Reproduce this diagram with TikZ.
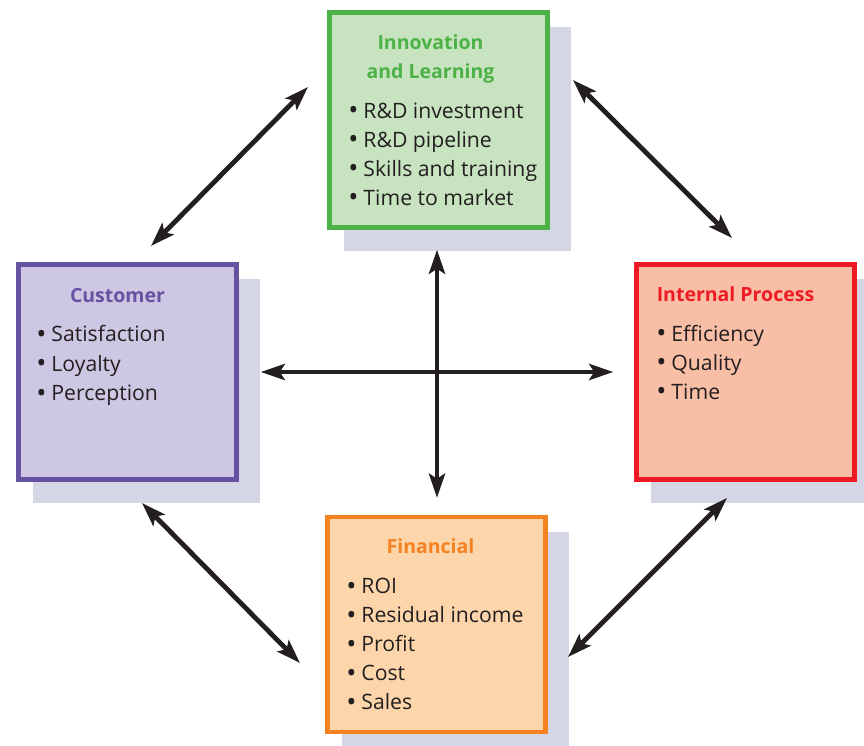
\documentclass[tikz,border=0pt]{standalone}
\usepackage{fontspec}
\setmainfont{Open Sans}
\usepackage{tikz}
\usetikzlibrary{arrows.meta, positioning, calc}
\usepackage{xcolor}
\definecolor{innovline}{RGB}{76,178,72}
\definecolor{innovfill}{RGB}{200,227,192}
\definecolor{custline}{RGB}{103,82,162}
\definecolor{custfill}{RGB}{205,199,227}
\definecolor{procline}{RGB}{237,28,36}
\definecolor{procfill}{RGB}{248,190,166}
\definecolor{finline}{RGB}{245,130,32}
\definecolor{finfill}{RGB}{252,213,170}
\definecolor{shadowgray}{RGB}{212,214,230}
\definecolor{ink}{RGB}{35,31,32}

\tikzset{
  panel/.style={draw=#1line, fill=#1fill, line width=4.5pt, inner sep=0pt,
    minimum width=218pt, minimum height=215pt},
  heading/.style={anchor=base, font=\fontsize{19.5}{29}\selectfont\bfseries,
    text=#1line, align=center, inner sep=0pt},
  item/.style={anchor=base west, font=\fontsize{21.2}{29}\selectfont, text=ink, inner sep=0pt},
  link/.style={draw=ink, line width=4.8pt, {Stealth[length=24pt,width=16pt,inset=5pt]}-{Stealth[length=24pt,width=16pt,inset=5pt]}}
}
\newcommand{\bul}{\makebox[15pt][l]{\raisebox{-1.6pt}{\fontsize{27}{27}\selectfont\textbullet}}}

\begin{document}
\begin{tikzpicture}[x=1pt, y=-1pt]
  \useasboundingbox (0,0) rectangle (864,746);
  % the four panels, placed first to get their corners
  \path node[panel=innov, draw=none, fill=none] (innov) at (438.5,120) {}
        node[panel=cust, draw=none, fill=none] (cust) at (127.5,372) {}
        node[panel=proc, draw=none, fill=none] (proc) at (745.5,372) {}
        node[panel=fin, draw=none, fill=none] (fin) at (436.5,624.5) {};
  % shadows behind
  \foreach \p in {innov,cust,proc,fin}
    \fill[shadowgray] ([shift={(16.75,16.75)}]\p.north west) rectangle ([shift={(21.25,21.25)}]\p.south east);
  \foreach \p in {innov,cust,proc,fin}
    \node[panel=\p] at (\p) {};
  % headings
  \node[heading=innov] (innov-h) at ([shift={(-8,68)}]innov.north) {Innovation\\and Learning};
  \node[heading=cust] (cust-h) at ([shift={(-10,40)}]cust.north) {Customer};
  \node[heading=proc] (proc-h) at ([shift={(-10,39)}]proc.north) {Internal Process};
  \node[heading=fin] (fin-h) at ([shift={(-6,39)}]fin.north) {Financial};
  % bullet lists
  \foreach \t [count=\i] in {R\&D investment, R\&D pipeline, Skills and training, Time to market}
    \node[item] (innov-\i) at ([shift={(21,79+29*\i)}]innov.north west) {\bul\t};
  \foreach \t [count=\i] in {Satisfaction, Loyalty, Perception}
    \node[item] (cust-\i) at ([shift={(20,50+29.5*\i)}]cust.north west) {\bul\t};
  \foreach \t [count=\i] in {Efficiency, Quality, Time}
    \node[item] (proc-\i) at ([shift={(22,50+29*\i)}]proc.north west) {\bul\t};
  \foreach \t [count=\i] in {ROI, Residual income, Profit, Cost, Sales}
    \node[item] (fin-\i) at ([shift={(21,50+29*\i)}]fin.north west) {\bul\t};
  % arrow ends
  \coordinate (ci-a) at (151,246);
  \coordinate (ci-b) at (308,87);
  \coordinate (ip-a) at (573,80);
  \coordinate (ip-b) at (732,238);
  \coordinate (cf-a) at (142,503);
  \coordinate (cf-b) at (300,663);
  \coordinate (pf-a) at (727,498);
  \coordinate (pf-b) at (568,657);
  \draw[link] (ci-a) -- (ci-b);
  \draw[link] (ip-a) -- (ip-b);
  \draw[link] (cf-a) -- (cf-b);
  \draw[link] (pf-a) -- (pf-b);
  % cross in the middle
  \draw[link] ([xshift=22pt]cust.east) -- ([xshift=-21pt]proc.west);
  \draw[link] ([yshift=-20pt]innov.south -| 437,0) -- ([yshift=17pt]fin.north -| 437,0);
\end{tikzpicture}
\end{document}
